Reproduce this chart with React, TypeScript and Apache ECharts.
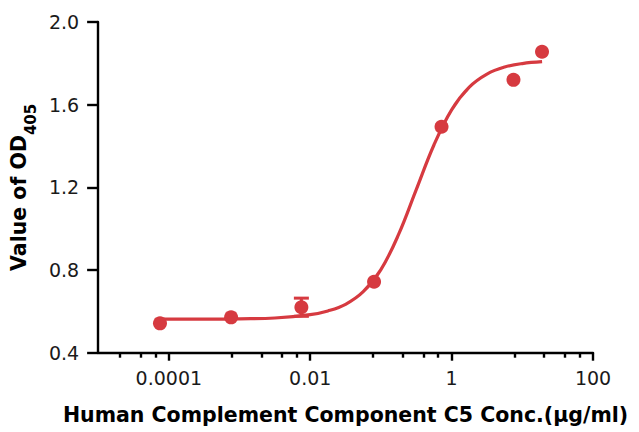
import React, { useEffect, useRef } from "react";
import * as echarts from "echarts";

// Measured points: concentration (µg/ml) and OD405
const concentrations = [0.000075, 0.00076, 0.0075, 0.08, 0.72, 7.5, 19];
const odValues = [0.542, 0.571, 0.62, 0.743, 1.493, 1.72, 1.856];
const odErrors = [0, 0, 0.044, 0, 0, 0, 0];

// Fitted curve: log10(concentration) and OD405
const curveLogConc = [-4.13, -3.5, -3, -2.5, -2, -1.75, -1.5, -1.25, -1, -0.75, -0.5, -0.25, 0, 0.25, 0.5, 0.75, 1, 1.28];
const curveOd = [0.562, 0.562, 0.564, 0.568, 0.584, 0.602, 0.634, 0.695, 0.802, 0.972, 1.189, 1.405, 1.575, 1.685, 1.748, 1.782, 1.799, 1.808];

// Axis ticks (log10 of concentration)
const xMajorTicks = [-4, -2, 0, 2];
const xMinorTicks = [-4.69, -4.4, -4.19, -3.11, -2.69, -2.4, -2.19, -1.11, -0.69, -0.4, -0.19, 0.89, 1.31, 1.6, 1.81];
const xLabels = ["0.0001", "0.01", "1", "100"];
const yTicks = [0.4, 0.8, 1.2, 1.6, 2.0];

const RED = "#d63a40";
const FONT = "DejaVu Sans";

export default function App() {
  const ref = useRef<HTMLDivElement>(null);
  useEffect(() => {
    if (!ref.current) return;
    const chart = echarts.init(ref.current, null, { renderer: "svg" });
    const pts = concentrations.map((c, i) => [Math.log10(c), odValues[i]]);
    const errs = concentrations.map((c, i) => [Math.log10(c), odValues[i], odErrors[i]]).filter((d) => d[2] > 0);
    const curve = curveLogConc.map((x, i) => [x, curveOd[i]]);
    const grid = { left: 97.5, right: 46, top: 22, bottom: 79.3 };
    chart.setOption({
      animation: false,
      backgroundColor: "#ffffff",
      grid,
      xAxis: [
        {
          type: "value",
          min: -5,
          max: 2,
          position: "bottom",
          axisLine: { show: true, onZero: false, lineStyle: { color: "#000", width: 2.4 } },
          axisTick: { show: true, length: 8, lineStyle: { color: "#000", width: 2.4 }, customValues: xMajorTicks },
          axisLabel: {
            customValues: xMajorTicks,
            formatter: (v: number) => xLabels[xMajorTicks.indexOf(Math.round(v))] ?? "",
            fontFamily: FONT,
            fontSize: 19,
            color: "#1a1a1a",
            margin: 16,
          },
          splitLine: { show: false },
          name: "Human Complement Component C5 Conc.(μg/ml)",
          nameLocation: "middle",
          nameGap: 52,
          nameTextStyle: { fontFamily: FONT, fontSize: 20.5, fontWeight: "bold", color: "#000" },
        },
        {
          type: "value",
          min: -5,
          max: 2,
          position: "bottom",
          axisLine: { show: false, onZero: false },
          axisTick: { show: true, length: 5, lineStyle: { color: "#000", width: 2.4 }, customValues: xMinorTicks },
          axisLabel: { show: false },
          splitLine: { show: false },
        },
      ],
      yAxis: {
        type: "value",
        min: 0.4,
        max: 2.0,
        interval: 0.4,
        axisLine: { show: true, onZero: false, lineStyle: { color: "#000", width: 2.4 } },
        axisTick: { show: true, length: 11, lineStyle: { color: "#000", width: 2.4 } },
        axisLabel: {
          formatter: (v: number) => (yTicks.some((t) => Math.abs(t - v) < 1e-6) ? v.toFixed(1) : ""),
          fontFamily: FONT,
          fontSize: 19,
          color: "#1a1a1a",
          margin: 19,
        },
        splitLine: { show: false },
        name: "{a|Value of OD}{b|405}",
        nameLocation: "middle",
        nameGap: 60,
        nameTextStyle: {
          color: "#000",
          rich: {
            a: { fontFamily: FONT, fontSize: 20.5, fontWeight: "bold", color: "#000", lineHeight: 30, verticalAlign: "top" },
            b: { fontFamily: FONT, fontSize: 15, fontWeight: "bold", color: "#000", lineHeight: 15, verticalAlign: "bottom" },
          },
        },
      },
      series: [
        {
          type: "line",
          data: curve,
          smooth: 0.4,
          showSymbol: false,
          symbol: "none",
          lineStyle: { color: RED, width: 3.2 },
          z: 2,
        },
        {
          type: "custom",
          data: errs,
          renderItem: (params: any, api: any) => {
            const x = api.value(0);
            const y = api.value(1);
            const e = api.value(2);
            const top = api.coord([x, y + e]);
            const bot = api.coord([x, y - e]);
            const hw = 7.5;
            const style = { stroke: RED, lineWidth: 3 };
            return {
              type: "group",
              children: [
                { type: "line", shape: { x1: top[0], y1: top[1], x2: bot[0], y2: bot[1] }, style },
                { type: "line", shape: { x1: top[0] - hw, y1: top[1], x2: top[0] + hw, y2: top[1] }, style },
                { type: "line", shape: { x1: bot[0] - hw, y1: bot[1], x2: bot[0] + hw, y2: bot[1] }, style },
              ],
            };
          },
          z: 3,
        },
        {
          type: "scatter",
          data: pts,
          symbol: "circle",
          symbolSize: 14,
          itemStyle: { color: RED, opacity: 1 },
          z: 4,
        },
      ],
    });
    return () => chart.dispose();
  }, []);
  return <div ref={ref} style={{ position: "fixed", left: 0, top: 0, width: 639, height: 432 }} />;
}
